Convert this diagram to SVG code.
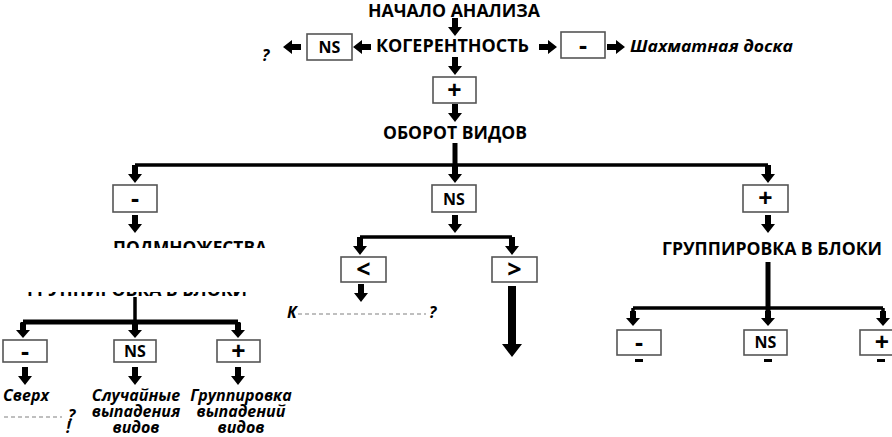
<svg xmlns="http://www.w3.org/2000/svg" width="892" height="437" viewBox="0 0 892 437">
<style>
  .t{font-family:"Open Sans","Liberation Sans",sans-serif;font-weight:700;fill:#000;}
  .h{font-size:17px;text-anchor:middle;}
  .i{font-family:"Open Sans","Liberation Sans",sans-serif;font-weight:700;font-style:italic;font-size:16px;fill:#000;}
  .box{fill:#fff;stroke:#555;stroke-width:1.6;}
  .bt{font-family:"Open Sans","Liberation Sans",sans-serif;font-weight:700;font-size:16px;text-anchor:middle;fill:#000;}
  .sym{font-family:"Open Sans","Liberation Sans",sans-serif;font-weight:700;font-size:25px;text-anchor:middle;fill:#000;}
  .ln{stroke:#000;fill:none;stroke-linecap:butt;}
  .arr{fill:#000;}
  .frag{stroke:#aaa;stroke-width:1.5;stroke-dasharray:4 3;fill:none;}
</style>
<defs>
  <path id="ad" d="M-3,-18 H3 V-9 H7 L0,0 L-7,-9 H-3 Z"/>
  <path id="as" d="M-3,-15 H3 V-8 H7 L0,0 L-7,-8 H-3 Z"/>
  <clipPath id="c1"><rect x="100" y="236" width="200" height="12"/></clipPath>
  <clipPath id="c2"><rect x="0" y="292" width="270" height="10"/></clipPath>
</defs>

<g id="connectors" class="arr">
  <use href="#ad" x="455" y="36"/>
  <use href="#ad" x="455" y="75"/>
  <use href="#ad" x="455" y="122"/>
  <use href="#ad" transform="translate(283,47) rotate(90)"/>
  <use href="#ad" transform="translate(353,47) rotate(90)"/>
  <use href="#ad" transform="translate(557,47) rotate(-90)"/>
  <use href="#ad" transform="translate(625,47) rotate(-90)"/>
  <path class="ln" stroke-width="5" d="M455,143 V175"/>
  <path class="ln" stroke-width="3.5" d="M135,165 H768 M135,165 V175 M768,165 V175"/>
  <use href="#ad" x="135" y="183"/>
  <use href="#ad" x="455" y="183"/>
  <use href="#ad" x="768" y="183"/>
  <use href="#ad" x="135" y="233"/>
  <use href="#ad" x="455" y="233"/>
  <use href="#ad" x="768" y="233"/>
  <path class="ln" stroke-width="3.5" d="M360,237 H512 M360,237 V246 M512,237 V246"/>
  <use href="#ad" x="360" y="255"/>
  <use href="#ad" x="512" y="255"/>
  <use href="#ad" x="361" y="302"/>
  <path d="M508,286 H516 V344 H522 L512,357 L502,344 H508 Z"/>
  <path class="ln" stroke-width="3.5" d="M135,297 V330"/>
  <path class="ln" stroke-width="5" d="M23,322 H238 M23,322 V330 M238,322 V330"/>
  <use href="#as" x="23" y="338"/>
  <use href="#as" x="135" y="338"/>
  <use href="#as" x="238" y="338"/>
  <use href="#ad" x="25" y="385"/>
  <use href="#ad" x="135" y="385"/>
  <use href="#ad" x="238" y="385"/>
  <path class="ln" stroke-width="5" d="M768,262 V318"/>
  <path class="ln" stroke-width="3.5" d="M633,308 H883 M633,308 V318 M883,308 V318"/>
  <use href="#as" x="633" y="326"/>
  <use href="#as" x="768" y="326"/>
  <use href="#as" x="883" y="326"/>
  <rect x="635" y="359" width="8" height="3"/>
  <rect x="764" y="359" width="8" height="3"/>
  <rect x="877" y="359" width="8" height="3"/>
</g>

<g id="n-start"><text class="t h" x="454" y="17" textLength="172" lengthAdjust="spacingAndGlyphs">НАЧАЛО АНАЛИЗА</text></g>
<g id="n-coh"><text class="t h" x="452.5" y="52" textLength="153" lengthAdjust="spacingAndGlyphs">КОГЕРЕНТНОСТЬ</text></g>
<g id="n-coh-ns"><rect class="box" x="307" y="34" width="45" height="26"/><text class="bt" x="329.5" y="53">NS</text></g>
<g id="n-coh-ns-out"><text class="i" x="262" y="61" font-size="13">?</text></g>
<g id="n-coh-minus"><rect class="box" x="561" y="32" width="44" height="26"/><text class="sym" x="583" y="54">-</text></g>
<g id="n-chess"><text class="i" x="630" y="52" font-size="17" textLength="163" lengthAdjust="spacingAndGlyphs">Шахматная доска</text></g>
<g id="n-coh-plus"><rect class="box" x="433" y="77" width="43" height="26"/><text class="sym" x="454.5" y="99">+</text></g>
<g id="n-turn"><text class="t h" x="455" y="139" textLength="144" lengthAdjust="spacingAndGlyphs">ОБОРОТ ВИДОВ</text></g>

<g id="n-turn-minus"><rect class="box" x="113" y="185" width="44" height="27"/><text class="sym" x="135" y="207">-</text></g>
<g id="n-turn-ns"><rect class="box" x="432" y="185" width="44" height="27"/><text class="bt" x="454" y="205">NS</text></g>
<g id="n-turn-plus"><rect class="box" x="743" y="185" width="45" height="27"/><text class="sym" x="765.5" y="207">+</text></g>

<g id="n-subsets" clip-path="url(#c1)"><text class="t" x="113" y="254" font-size="17" textLength="154" lengthAdjust="spacingAndGlyphs">ПОДМНОЖЕСТВА</text></g>
<g id="n-groups-left" clip-path="url(#c2)"><text class="t" x="27" y="296" font-size="17" textLength="220" lengthAdjust="spacingAndGlyphs">ГРУППИРОВКА В БЛОКИ</text></g>

<g id="n-lt"><rect class="box" x="341" y="257" width="45" height="25"/><text class="sym" x="363.5" y="278" font-size="22">&lt;</text></g>
<g id="n-gt"><rect class="box" x="492" y="257" width="45" height="25"/><text class="sym" x="514.5" y="278" font-size="22">&gt;</text></g>
<g id="n-when"><text class="i" x="287" y="318" font-size="15">К</text><path class="frag" d="M298,314 H426"/><text class="i" x="429" y="318" font-size="13">?</text></g>

<g id="n-groups-right"><text class="t h" x="772" y="255" textLength="220" lengthAdjust="spacingAndGlyphs">ГРУППИРОВКА В БЛОКИ</text></g>

<g id="n-bl-minus"><rect class="box" x="3" y="340" width="44" height="22"/><text class="sym" x="25" y="360">-</text></g>
<g id="n-bl-ns"><rect class="box" x="114" y="340" width="42" height="22"/><text class="bt" x="135" y="357">NS</text></g>
<g id="n-bl-plus"><rect class="box" x="217" y="340" width="43" height="22"/><text class="sym" x="238.5" y="360">+</text></g>

<g id="n-over"><text class="i" x="3" y="401">Сверх</text><path class="frag" d="M4,417 H62"/><text class="i" font-size="12"><tspan x="68" y="421">?</tspan><tspan x="66" y="433">!</tspan></text></g>
<g id="n-random"><text class="i" text-anchor="middle"><tspan x="136" y="401">Случайные</tspan><tspan x="136" y="417">выпадения</tspan><tspan x="136" y="433">видов</tspan></text></g>
<g id="n-grouped"><text class="i" text-anchor="middle"><tspan x="241" y="401">Группировка</tspan><tspan x="241" y="417">выпадений</tspan><tspan x="241" y="433">видов</tspan></text></g>

<g id="n-br-minus"><rect class="box" x="617" y="330" width="44" height="25"/><text class="sym" x="639" y="351">-</text></g>
<g id="n-br-ns"><rect class="box" x="744" y="330" width="43" height="25"/><text class="bt" x="765.5" y="348">NS</text></g>
<g id="n-br-plus"><rect class="box" x="860" y="330" width="44" height="25"/><text class="sym" x="882" y="351">+</text></g>
</svg>
